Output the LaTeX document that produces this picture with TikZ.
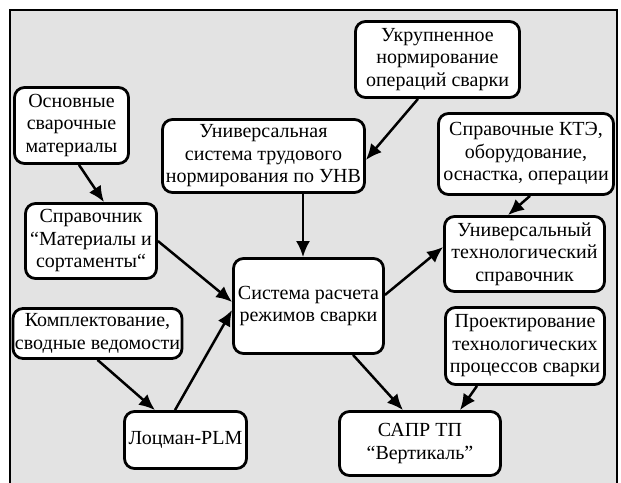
\documentclass[tikz,border=0pt]{standalone}
\usepackage{fontspec}
\setmainfont{Liberation Serif}
\usepackage{tikz}
\usetikzlibrary{arrows.meta}
\tikzstyle{block}=[draw, line width=2.8pt, rounded corners=10pt, fill=white, align=center, inner sep=2pt]
\tikzstyle{link}=[line width=2.5pt, -{Latex[length=16pt,width=14pt]}]
\tikzstyle{panel}=[line width=2pt, fill=black!11]

\begin{document}
\begin{tikzpicture}[x=1pt,y=-1pt,font=\fontsize{20}{22.5}\selectfont]
	\useasboundingbox (0,0) rectangle (621,482);
	\clip (0,0) rectangle (621,482);
	\draw[panel] (10,10) rectangle (617,500);
	\node[block, minimum width=114, minimum height=76] (osn) at (71.5,125.5) {Основные\\сварочные\\материалы};
	\node[block, minimum width=131, minimum height=75] (spr) at (91,241) {Справочник\\“Материалы и\\сортаменты“};
	\node[block, minimum width=202, minimum height=73] (unv) at (263.5,156) {Универсальная\\система трудового\\нормирования по УНВ};
	\node[block, minimum width=164, minimum height=76] (ukr) at (437.5,59.5) {Укрупненное\\нормирование\\операций сварки};
	\node[block, minimum width=175, minimum height=81] (kte) at (526,154) {Справочные КТЭ,\\оборудование,\\оснастка, операции};
	\node[block, minimum width=160, minimum height=75] (uts) at (524.5,254) {Универсальный\\технологический\\справочник};
	\node[block, minimum width=150, minimum height=95] (srs) at (308.5,306) {Система расчета\\режимов сварки};
	\node[block, minimum width=168, minimum height=50] (kmp) at (97.5,333.5) {Комплектование,\\сводные ведомости};
	\node[block, minimum width=122, minimum height=57] (plm) at (185.5,440) {Лоцман-PLM};
	\node[block, minimum width=159, minimum height=77] (ptp) at (525,346) {Проектирование\\технологических\\процессов сварки};
	\node[block, minimum width=161, minimum height=64] (sapr) at (420,443.5) {САПР ТП\\“Вертикаль”};
	\draw[link] ([xshift=7.5pt]osn.south) -- ([xshift=13pt]spr.north);
	\draw[link] ([xshift=-19.5pt]ukr.south) -- ([yshift=-4pt]unv.east);
	\draw[link] ([xshift=4pt]kte.south) -- ([xshift=-16.5pt]uts.north);
	\draw[link] ([xshift=39.5pt]unv.south) -- ([xshift=-5.5pt]srs.north);
	\draw[link] (spr.east) -- ([yshift=4pt]srs.west);
	\draw[link] (kmp.south) -- ([xshift=-30.5pt]plm.north);
	\draw[link] ([xshift=-10.5pt]plm.north) -- ([yshift=-4pt]srs.west);
	\draw[link] ([yshift=11pt]srs.east) -- ([yshift=7pt]uts.west);
	\draw[link] ([xshift=44.5pt]srs.south) -- ([xshift=-17pt]sapr.north);
	\draw[link] ([xshift=-48pt]ptp.south) -- ([xshift=40pt]sapr.north);
\end{tikzpicture}
\end{document}
